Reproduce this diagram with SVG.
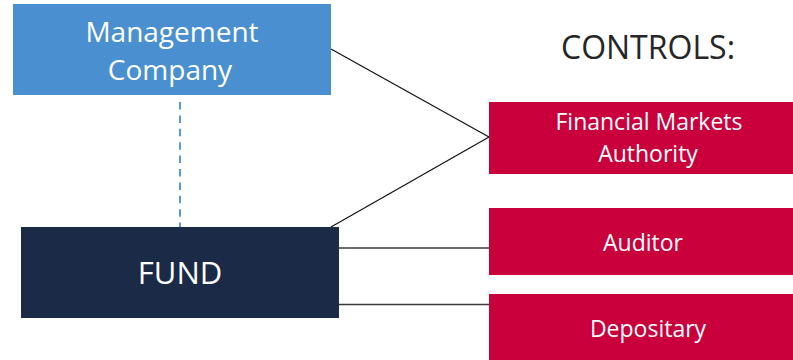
<svg xmlns="http://www.w3.org/2000/svg" width="793" height="360" viewBox="0 0 793 360">
  <style>
    .lbl { font-family: "Open Sans", "Liberation Sans", sans-serif; fill: #ffffff; text-anchor: middle; }
    .ctl { fill: #c9003c; }
    .link { stroke: #111111; stroke-width: 1.2; fill: none; }
    .hlink { stroke: #3a3a3a; stroke-width: 1.6; fill: none; }
  </style>
  <rect width="793" height="360" fill="#ffffff"/>

  <g id="connectors">
    <line class="link" x1="331" y1="49" x2="489" y2="137"/>
    <line class="link" x1="331" y1="227" x2="489" y2="137"/>
    <line class="hlink" x1="339" y1="248" x2="489" y2="248"/>
    <line class="hlink" x1="339" y1="304.5" x2="489" y2="304.5"/>
    <line x1="180" y1="102" x2="180" y2="227" stroke="#5b9bd5" stroke-width="2" stroke-dasharray="7.5,5.9"/>
  </g>

  <g id="management-company">
    <rect x="13" y="4" width="318" height="91" fill="#4a90d0"/>
    <text class="lbl" x="172" y="42" font-size="28">Management</text>
    <text class="lbl" x="170" y="80" font-size="28">Company</text>
  </g>

  <g id="fund">
    <rect x="21" y="227" width="318" height="91" fill="#1b2a47"/>
    <text class="lbl" x="180" y="284" font-size="31">FUND</text>
  </g>

  <g id="controls-heading">
    <text x="648" y="59" font-family="'Open Sans', 'Liberation Sans', sans-serif" font-size="32" fill="#262626" text-anchor="middle">CONTROLS:</text>
  </g>

  <g id="financial-markets-authority">
    <rect class="ctl" x="489" y="102" width="304" height="72"/>
    <text class="lbl" x="649" y="130" font-size="23">Financial Markets</text>
    <text class="lbl" x="648" y="162" font-size="23">Authority</text>
  </g>

  <g id="auditor">
    <rect class="ctl" x="489" y="208" width="304" height="67"/>
    <text class="lbl" x="643" y="251" font-size="23">Auditor</text>
  </g>

  <g id="depositary">
    <rect class="ctl" x="489" y="294" width="304" height="66"/>
    <text class="lbl" x="648" y="337" font-size="23">Depositary</text>
  </g>
</svg>
